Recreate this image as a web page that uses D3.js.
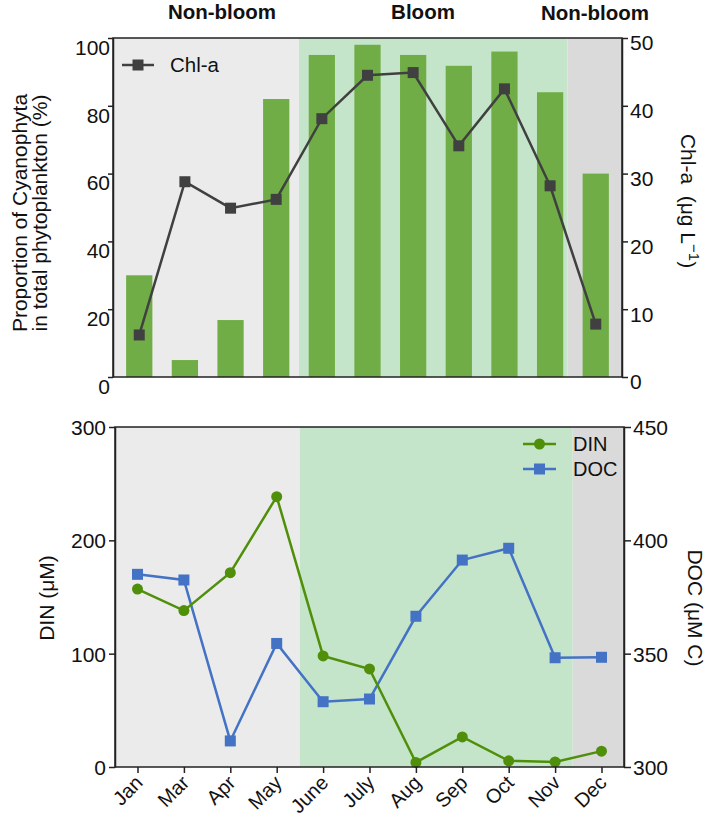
<!DOCTYPE html>
<html><head><meta charset="utf-8">
<script src="https://cdn.jsdelivr.net/npm/d3@7"></script>
<style>body{margin:0;background:#fff}svg{display:block}text{font-family:Arial,"Liberation Sans",sans-serif;fill:#111}</style>
</head><body><svg id="c" width="709" height="820"></svg>
<script>
const months = ["Jan","Mar","Apr","May","June","July","Aug","Sep","Oct","Nov","Dec"];
const cyanoPct = [30, 5, 16.8, 82, 95, 98, 95, 91.8, 96, 84, 60];
const chla = [6.2, 28.8, 24.9, 26.2, 38.1, 44.5, 44.9, 34.1, 42.5, 28.2, 7.8];
const din = [157, 138, 171.5, 238.5, 98, 86.5, 4, 26.5, 5.5, 4.5, 14];
const doc = [385, 382.5, 311.5, 354.5, 328.8, 330, 366.5, 391.3, 396.5, 348.2, 348.4];
const leftTicksTop = [0,20,40,60,80,100];
const rightTicksTop = [0,10,20,30,40,50];
const dinTicks = [0,100,200,300];
const docTicks = [300,350,400,450];
const phases = ["Non-bloom","Bloom","Non-bloom"];

const FONT = "Arial, 'Liberation Sans', sans-serif";
const svg = d3.select("#c");
const C = {gray1:"#ebebeb", green:"#c5e5ca", gray2:"#dadada", bar:"#70ad47", chl:"#404040", din:"#4f8f0a", doc:"#4472c4", axis:"#222"};

// ---------- Top panel ----------
const T = {l:113, r:622, t:38, b:377};
const xT = d3.scalePoint().domain(months).range([T.l, T.r]).padding(0.575);
const stepT = xT.step();
const yL = d3.scaleLinear().domain([0,100]).range([T.b, T.t]);
const yR = d3.scaleLinear().domain([0,50]).range([T.b, T.t]);

function bgRegions(g, x, step, box){
  const s1 = x("May") + step*0.5, s2 = x("Nov") + step*0.38;
  g.append("rect").attr("x",box.l).attr("y",box.t).attr("width",s1-box.l).attr("height",box.b-box.t).attr("fill",C.gray1);
  g.append("rect").attr("x",s1).attr("y",box.t).attr("width",s2-s1).attr("height",box.b-box.t).attr("fill",C.green);
  g.append("rect").attr("x",s2).attr("y",box.t).attr("width",box.r-s2).attr("height",box.b-box.t).attr("fill",C.gray2);
}
const gT = svg.append("g");
bgRegions(gT, xT, stepT, T);
const bw = stepT*0.575;
gT.selectAll("rect.bar").data(months).join("rect").attr("class","bar")
  .attr("x",d=>xT(d)-bw/2).attr("width",bw)
  .attr("y",(d,i)=>yL(cyanoPct[i])).attr("height",(d,i)=>T.b-yL(cyanoPct[i])).attr("fill",C.bar);
const lineChl = d3.line().x((d,i)=>xT(months[i])).y(d=>yR(d));
gT.append("path").attr("d",lineChl(chla)).attr("fill","none").attr("stroke",C.chl).attr("stroke-width",2.5);
gT.selectAll("rect.sq").data(chla).join("rect").attr("class","sq")
  .attr("x",(d,i)=>xT(months[i])-5.5).attr("y",d=>yR(d)-5.5).attr("width",11).attr("height",11).attr("fill",C.chl);
gT.append("rect").attr("x",T.l).attr("y",T.t).attr("width",T.r-T.l).attr("height",T.b-T.t).attr("fill","none").attr("stroke",C.axis).attr("stroke-width",1.5);
function yAxis(g, scale, ticks, x, side, pad, dy, size){
  const ax = (side==="left"?d3.axisLeft(scale):d3.axisRight(scale)).tickValues(ticks).tickSize(size).tickPadding(pad).tickSizeOuter(0);
  const a = g.append("g").attr("transform",`translate(${x},0)`).call(ax);
  a.select(".domain").attr("stroke",C.axis).attr("stroke-width",1.5);
  a.selectAll(".tick line").attr("stroke",C.axis).attr("stroke-width",1.5);
  a.selectAll(".tick text").attr("font-size",21).attr("dy",dy).style("font-family",FONT).attr("fill","#111");
  return a;
}
yAxis(gT, yL, leftTicksTop, T.l, "left", -2, "0.78em", 5);
yAxis(gT, yR, rightTicksTop, T.r, "right", 2, "0.57em", 6);
// legend
gT.append("line").attr("x1",122).attr("x2",154).attr("y1",65).attr("y2",65).attr("stroke",C.chl).attr("stroke-width",2.5);
gT.append("rect").attr("x",138-5.5).attr("y",65-5.5).attr("width",11).attr("height",11).attr("fill",C.chl);
gT.append("text").attr("x",170).attr("y",65).attr("dy","0.35em").attr("font-size",20.5).text("Chl-a");
// titles
gT.append("text").attr("transform","translate(27,213) rotate(-90)").attr("text-anchor","middle").attr("font-size",21).text("Proportion of Cyanophyta");
gT.append("text").attr("transform","translate(47,213) rotate(-90)").attr("text-anchor","middle").attr("font-size",21).text("in total phytoplankton (%)");
const rt = gT.append("text").attr("transform","translate(681,201) rotate(90)").attr("text-anchor","middle").attr("font-size",21);
rt.append("tspan").text("Chl-a\u00a0\u00a0(μg L");
rt.append("tspan").attr("dy",-8).attr("font-size",15).text("\u22121");
rt.append("tspan").attr("dy",8).text(")");
// phase labels
const phaseX = [222, 423, 595];
phases.forEach((p,i)=>svg.append("text").attr("x",phaseX[i]).attr("y",i===2?20:18.5).attr("text-anchor","middle").attr("font-size",20.5).attr("font-weight","bold").text(p));

// ---------- Bottom panel ----------
const B = {l:115, r:624, t:427, b:767};
const xB = d3.scalePoint().domain(months).range([B.l, B.r]).padding(0.485);
const stepB = xB.step();
const yDIN = d3.scaleLinear().domain([0,300]).range([B.b, B.t]);
const yDOC = d3.scaleLinear().domain([300,450]).range([B.b, B.t]);
const gB = svg.append("g");
bgRegions(gB, xB, stepB, B);
const lineDIN = d3.line().x((d,i)=>xB(months[i])).y(d=>yDIN(d));
const lineDOC = d3.line().x((d,i)=>xB(months[i])).y(d=>yDOC(d));
gB.append("path").attr("d",lineDOC(doc)).attr("fill","none").attr("stroke",C.doc).attr("stroke-width",2.5);
gB.selectAll("rect.dq").data(doc).join("rect").attr("class","dq")
  .attr("x",(d,i)=>xB(months[i])-5.5).attr("y",d=>yDOC(d)-5.5).attr("width",11).attr("height",11).attr("fill",C.doc);
gB.append("path").attr("d",lineDIN(din)).attr("fill","none").attr("stroke",C.din).attr("stroke-width",2.5);
gB.selectAll("circle.dc").data(din).join("circle").attr("class","dc")
  .attr("cx",(d,i)=>xB(months[i])).attr("cy",d=>yDIN(d)).attr("r",5.5).attr("fill",C.din);
gB.append("rect").attr("x",B.l).attr("y",B.t).attr("width",B.r-B.l).attr("height",B.b-B.t).attr("fill","none").attr("stroke",C.axis).attr("stroke-width",1.5);
yAxis(gB, yDIN, dinTicks, B.l, "left", 3, "0.35em", 6);
yAxis(gB, yDOC, docTicks, B.r, "right", 2, "0.35em", 7);
// x axis
const xa = gB.append("g").attr("transform",`translate(0,${B.b})`).call(d3.axisBottom(xB).tickSize(6).tickSizeOuter(0));
xa.select(".domain").remove();
xa.selectAll(".tick line").attr("stroke",C.axis).attr("stroke-width",1.5);
xa.selectAll(".tick text").attr("font-size",20).attr("text-anchor","end").attr("fill","#111")
  .style("font-family",FONT)
  .attr("x",0).attr("y",0).attr("dy","0.35em")
  .attr("transform","translate(1,12) rotate(-45)");
// legend
[["DIN",C.din,444,"c"],["DOC",C.doc,469,"s"]].forEach(([n,col,y,m])=>{
  gB.append("line").attr("x1",523).attr("x2",556).attr("y1",y).attr("y2",y).attr("stroke",col).attr("stroke-width",2.5);
  if(m==="c") gB.append("circle").attr("cx",539.5).attr("cy",y).attr("r",5.5).attr("fill",col);
  else gB.append("rect").attr("x",534).attr("y",y-5.5).attr("width",11).attr("height",11).attr("fill",col);
  gB.append("text").attr("x",573).attr("y",y).attr("dy","0.35em").attr("font-size",20).text(n);
});
gB.append("text").attr("transform","translate(54,598) rotate(-90)").attr("text-anchor","middle").attr("font-size",21).text("DIN (μM)");
gB.append("text").attr("transform","translate(688,608) rotate(90)").attr("text-anchor","middle").attr("font-size",21).text("DOC (μM C)");
</script></body></html>
